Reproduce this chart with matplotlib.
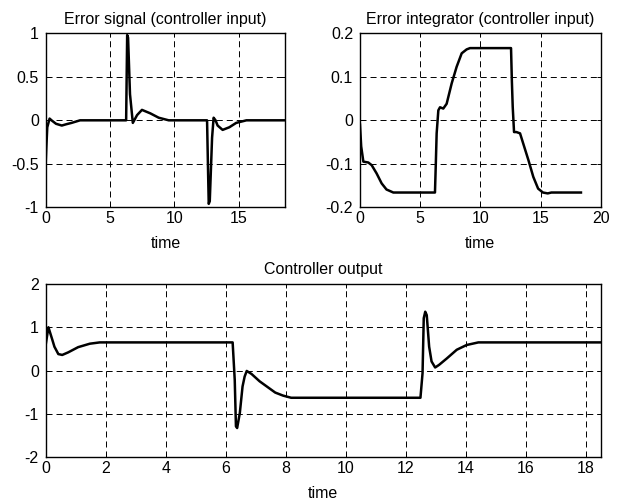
import matplotlib
matplotlib.use("Agg")
import matplotlib.pyplot as plt
from matplotlib.ticker import FuncFormatter

# Error signal (controller input)
err_t = [0.0, 0.05, 0.12, 0.3, 0.45, 0.8, 1.25, 1.6, 2.0, 2.67, 6.25, 6.33, 6.4, 6.55, 6.77,
         7.1, 7.48, 8.13, 8.78, 9.3, 9.56, 12.54, 12.62, 12.67, 12.75, 12.93, 13.05, 13.2,
         13.36, 13.75, 14.27, 14.8, 15.6, 18.6]
err_v = [-0.48, -0.3, -0.08, 0.02, 0.0, -0.04, -0.06, -0.045, -0.03, 0.0, 0.0, 0.98, 0.95, 0.3, -0.03,
         0.06, 0.12, 0.08, 0.03, 0.01, 0.0, 0.0, -0.6, -0.96, -0.93, -0.2, 0.03, 0.0,
         -0.06, -0.11, -0.08, -0.03, 0.0, 0.0]

# Error integrator (controller input)
int_t = [0.0, 0.1, 0.28, 0.69, 0.97, 1.38, 1.8, 2.2, 2.77, 6.23, 6.3, 6.37, 6.51, 6.65, 6.92,
         7.2, 7.62, 8.03, 8.45, 8.86, 9.14, 12.55, 12.62, 12.69, 12.8, 13.0, 13.3, 13.57, 14.0,
         14.4, 14.8, 15.2, 15.6, 15.9, 18.36]
int_v = [-0.01, -0.06, -0.095, -0.097, -0.103, -0.122, -0.145, -0.159, -0.166, -0.166, -0.1, -0.03,
         0.023, 0.03, 0.027, 0.038, 0.085, 0.123, 0.154, 0.163, 0.166, 0.166, 0.09, 0.031,
         -0.027, -0.027, -0.03, -0.054, -0.092, -0.13, -0.157, -0.166, -0.168, -0.166, -0.166]

# Controller output
out_t = [0.0, 0.09, 0.22, 0.29, 0.42, 0.55, 0.75, 1.08, 1.47, 1.8, 6.23, 6.3, 6.34, 6.38, 6.47,
         6.56, 6.63, 6.7, 6.86, 7.13, 7.39, 7.65, 7.91, 8.18, 12.49, 12.56, 12.6, 12.65, 12.7,
         12.78, 12.86, 12.98, 13.11, 13.37, 13.7, 14.03, 14.42, 18.5]
out_v = [0.6, 1.0, 0.71, 0.55, 0.38, 0.36, 0.42, 0.54, 0.62, 0.65, 0.65, -0.22, -1.29, -1.33, -0.98,
         -0.37, -0.14, -0.01, -0.08, -0.25, -0.38, -0.51, -0.58, -0.63, -0.63, -0.06, 1.21, 1.36, 1.28,
         0.55, 0.21, 0.07, 0.13, 0.28, 0.48, 0.59, 0.65, 0.65]

plt.rcParams["font.family"] = ["Liberation Sans", "DejaVu Sans"]
plt.rcParams["font.size"] = 11.5
plt.rcParams["axes.unicode_minus"] = False

fig = plt.figure(figsize=(6.18, 5.01), dpi=100)
ax1 = fig.add_axes([0.074, 0.5862, 0.3872, 0.3473])
ax2 = fig.add_axes([0.5825, 0.5862, 0.3895, 0.3473])
ax3 = fig.add_axes([0.074, 0.0878, 0.8981, 0.3453])

fmt = FuncFormatter(lambda v, pos: "%g" % round(v, 6))


def style(ax, title, xlim, ylim, xticks, yticks):
    ax.set_xlim(*xlim)
    ax.set_ylim(*ylim)
    ax.set_xticks(xticks)
    ax.set_yticks(yticks)
    ax.xaxis.set_major_formatter(fmt)
    ax.yaxis.set_major_formatter(fmt)
    ax.set_title(title, fontsize=11.5, pad=7)
    ax.set_xlabel("time", fontsize=11.5, labelpad=7)
    ax.grid(True, color="black", linestyle=(0, (6.2, 4.1)), linewidth=0.7)
    ax.tick_params(direction="in", length=3, width=0.7, top=True, right=True, labelsize=11.5)
    ax.tick_params(axis="x", pad=3)
    ax.tick_params(axis="y", pad=5)
    for sp in ax.spines.values():
        sp.set_linewidth(1.0)


ax1.plot(err_t, err_v, color="black", linewidth=1.8)
style(ax1, "Error signal (controller input)", (0, 18.6), (-1, 1), [0, 5, 10, 15], [-1, -0.5, 0, 0.5, 1])

ax2.plot(int_t, int_v, color="black", linewidth=1.8)
style(ax2, "Error integrator (controller input)", (0, 20), (-0.2, 0.2), [0, 5, 10, 15, 20],
      [-0.2, -0.1, 0, 0.1, 0.2])

ax3.plot(out_t, out_v, color="black", linewidth=1.8)
style(ax3, "Controller output", (0, 18.5), (-2, 2), list(range(0, 19, 2)), [-2, -1, 0, 1, 2])

fig.savefig("out.png", dpi=100)
